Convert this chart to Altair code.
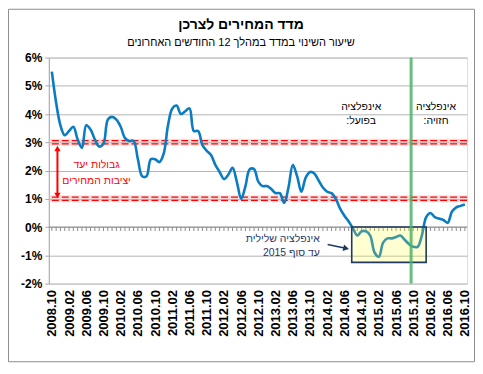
import json
import altair as alt
import pandas as pd

# ---------------- data ----------------
# monthly 12-month CPI change, 2008.10 .. 2016.10 (97 months)
months = []
y0, m0 = 2008, 10
for i in range(97):
    mm = (m0 - 1 + i) % 12 + 1
    yy = y0 + (m0 - 1 + i) // 12
    months.append(f"{yy}.{mm:02d}")

cpi = [
    5.5, 4.4, 3.6, 3.25, 3.4, 3.55, 3.1, 2.8, 3.6, 3.45, 3.1, 2.85,   # 2008.10-2009.09
    2.95, 3.8, 3.9, 3.8, 3.55, 3.15, 3.05, 3.05, 2.4, 1.8, 1.8, 2.4,  # 2009.10-2010.09
    2.4, 2.3, 2.6, 3.6, 4.2, 4.3, 4.0, 4.1, 4.2, 3.4, 3.4, 2.9,       # 2010.10-2011.09
    2.7, 2.55, 2.2, 1.95, 1.7, 1.85, 2.1, 1.6, 1.0, 1.45, 2.05, 2.05, # 2011.10-2012.09
    1.6, 1.45, 1.45, 1.35, 1.2, 1.2, 0.85, 1.4, 2.2, 1.8, 1.25, 1.75, # 2012.10-2013.09
    1.95, 1.9, 1.65, 1.4, 1.25, 1.2, 1.0, 0.65, 0.4, 0.2, -0.05, -0.3, # 2013.10-2014.09
    -0.15, -0.15, -0.3, -0.9, -1.05, -0.55, -0.4, -0.4, -0.35, -0.3, -0.45, -0.6, # 2014.10-2015.09
    -0.7, -0.7, -0.3, 0.35, 0.5, 0.35, 0.3, 0.25, 0.15, 0.55, 0.7, 0.75, # 2015.10-2016.09
    0.8,                                                              # 2016.10
]

tick_idx = list(range(0, 97, 4))
tick_labels = [months[i] for i in tick_idx]
y_ticks = [-2, -1, 0, 1, 2, 3, 4, 5, 6]

target_band = [1, 3]              # price-stability target bounds (%)
forecast_split = 83.5             # boundary actual / forecast (month index)
neg_box = {"x": 69.7, "x2": 87.0, "y": 0.0, "y2": -1.25}

title = "מדד המחירים לצרכן"
subtitle = "שיעור השינוי במדד במהלך 12 החודשים האחרונים"

red_lines = ["גבולות יעד", "יציבות המחירים"]
actual_lines = ["אינפלציה", "בפועל:\u200f"]
forecast_lines = ["אינפלציה", "חזויה:\u200f"]
neg_lines = ["אינפלציה שלילית", "עד סוף 2015"]

# ---------------- frames ----------------
df = pd.DataFrame({"idx": list(range(97)), "month": months, "cpi": cpi})
tick_df = pd.DataFrame({"idx": list(range(97)), "top": [0.0] * 97, "bot": [-0.14] * 97})

FONT = "Liberation Sans"
W, H = 420, 227
xs = alt.Scale(domain=[-0.7, 96.5], nice=False, zero=False)
ys = alt.Scale(domain=[-2, 6], nice=False, zero=False)

label_expr = json.dumps(tick_labels) + "[round(datum.value / 4)]"

X_AXIS = alt.Axis(
    values=tick_idx, labelExpr=label_expr, labelAngle=-90, title=None,
    domain=False, ticks=False, grid=False, labelPadding=6,
    labelFont=FONT, labelFontSize=13, labelFontWeight="bold", labelColor="#000000",
    labelOverlap=False, labelSeparation=0)
Y_AXIS = alt.Axis(
    values=y_ticks, labelExpr="datum.value + '%'", title=None,
    domain=True, domainColor="#a6a6a6", ticks=True, tickSize=4, tickColor="#a6a6a6",
    grid=True, gridColor="#b4b4b4", gridWidth=1, labelPadding=3,
    labelOverlap=False, labelSeparation=0,
    labelFont=FONT, labelFontSize=12, labelFontWeight="bold", labelColor="#000000")


def X(field):
    return alt.X(field, scale=xs, axis=X_AXIS)


def Y(field):
    return alt.Y(field, scale=ys, axis=Y_AXIS)


base = alt.Chart(df)

band_df = pd.DataFrame({"v": target_band})
shadow = alt.Chart(band_df).mark_rule(color="#f2b8b8", strokeWidth=7, opacity=0.45).encode(y=Y("v:Q"))
red_a = alt.Chart(band_df).mark_rule(color="#ff0000", strokeWidth=1.3, strokeDash=[7, 3], yOffset=-1.6).encode(
    y=Y("v:Q"))
red_b = alt.Chart(band_df).mark_rule(color="#ff0000", strokeWidth=1.3, strokeDash=[7, 3], yOffset=1.6).encode(
    y=Y("v:Q"))

zero_line = alt.Chart(pd.DataFrame({"v": [0]})).mark_rule(color="#8c8c8c", strokeWidth=1).encode(y=Y("v:Q"))
zero_ticks = alt.Chart(tick_df).mark_rule(color="#8c8c8c", strokeWidth=1).encode(
    x=X("idx:Q"), y=Y("top:Q"), y2="bot:Q")

line = base.mark_line(color="#0a7cc1", strokeWidth=2.6, interpolate="catmull-rom").encode(
    x=X("idx:Q"), y=Y("cpi:Q"))

box_df = pd.DataFrame([neg_box])
box = alt.Chart(box_df).mark_rect(fill="#ffff33", fillOpacity=0.22, stroke="#1f3864", strokeWidth=1.6).encode(
    x=X("x:Q"), x2="x2:Q", y=Y("y:Q"), y2="y2:Q")

green = alt.Chart(pd.DataFrame({"v": [forecast_split]})).mark_rule(
    color="#4cb368", strokeWidth=3, opacity=0.85).encode(x=X("v:Q"))

# red double arrow between the target bounds
arr_df = pd.DataFrame({"x": [1.3], "y": [1.15], "y2": [2.75]})
red_arrow = alt.Chart(arr_df).mark_rule(color="#ff0000", strokeWidth=2).encode(
    x=X("x:Q"), y=Y("y:Q"), y2="y2:Q")
heads_df = pd.DataFrame({"x": [1.3, 1.3], "y": [2.78, 1.12], "shape": ["triangle-up", "triangle-down"]})
red_heads = alt.Chart(heads_df).mark_point(filled=True, color="#ff0000", size=40, opacity=1).encode(
    x=X("x:Q"), y=Y("y:Q"), shape=alt.Shape("shape:N", scale=None, legend=None))

# navy arrow pointing to the box
nav_df = pd.DataFrame({"x": [64.1, 68.0], "y": [-0.62, -0.74]})
navy_shaft = alt.Chart(nav_df).mark_line(color="#1f3864", strokeWidth=1.6).encode(x=X("x:Q"), y=Y("y:Q"))
navy_head = alt.Chart(pd.DataFrame({"x": [68.4], "y": [-0.755]})).mark_point(
    shape="triangle-right", filled=True, color="#1f3864", size=45, angle=13, opacity=1).encode(
    x=X("x:Q"), y=Y("y:Q"))


def text_layer(lines, x, ys_, color, align="center", size=12, weight="normal"):
    d = pd.DataFrame({"t": lines, "x": [x] * len(lines), "y": ys_})
    return alt.Chart(d).mark_text(font=FONT, fontSize=size, color=color, align=align,
                                  baseline="middle", fontWeight=weight).encode(
        x=X("x:Q"), y=Y("y:Q"), text="t:N")


red_txt = text_layer(red_lines, 10.4, [2.2, 1.63], "#ff0000", size=10.5)
act_txt = text_layer(actual_lines, 71.9, [4.25, 3.74], "#000000", size=10.5)
fc_txt = text_layer(forecast_lines, 89.3, [4.25, 3.74], "#000000", size=10.5)
neg_txt = text_layer(neg_lines, 62.3, [-0.42, -0.92], "#1f3864", align="right", size=10.5)

# title + subtitle (positioned in the chart area above the plot)
ttl_df = pd.DataFrame({"t": [title]})
ttl = alt.Chart(ttl_df).mark_text(font=FONT, fontSize=14, fontWeight="bold", color="#000000",
                                  baseline="middle").encode(
    x=alt.value(193), y=alt.value(-33), text="t:N")
sub_df = pd.DataFrame({"t": [subtitle]})
sub = alt.Chart(sub_df).mark_text(font=FONT, fontSize=11, color="#000000", baseline="middle").encode(
    x=alt.value(193), y=alt.value(-14.5), text="t:N")

# chart-area frame
frame = alt.Chart(pd.DataFrame({"a": [0]})).mark_rect(filled=False, stroke="#8c8c8c", strokeWidth=1).encode(
    x=alt.value(-40.5), x2=alt.value(427.5), y=alt.value(-48.5), y2=alt.value(305.5))

chart = alt.layer(
    shadow, red_a, red_b, zero_line, zero_ticks, line, box, green,
    red_arrow, red_heads, navy_shaft, navy_head,
    red_txt, act_txt, fc_txt, neg_txt, ttl, sub, frame,
).properties(
    width=W, height=H,
    autosize=alt.AutoSizeParams(type="none"),
    padding={"left": 41, "top": 49, "right": 8, "bottom": 80},
).configure_view(stroke=None).configure_axis(labelOverlap=False).configure(background="#ffffff")

chart.save("out.html", embed_options={"renderer": "svg", "actions": False})
